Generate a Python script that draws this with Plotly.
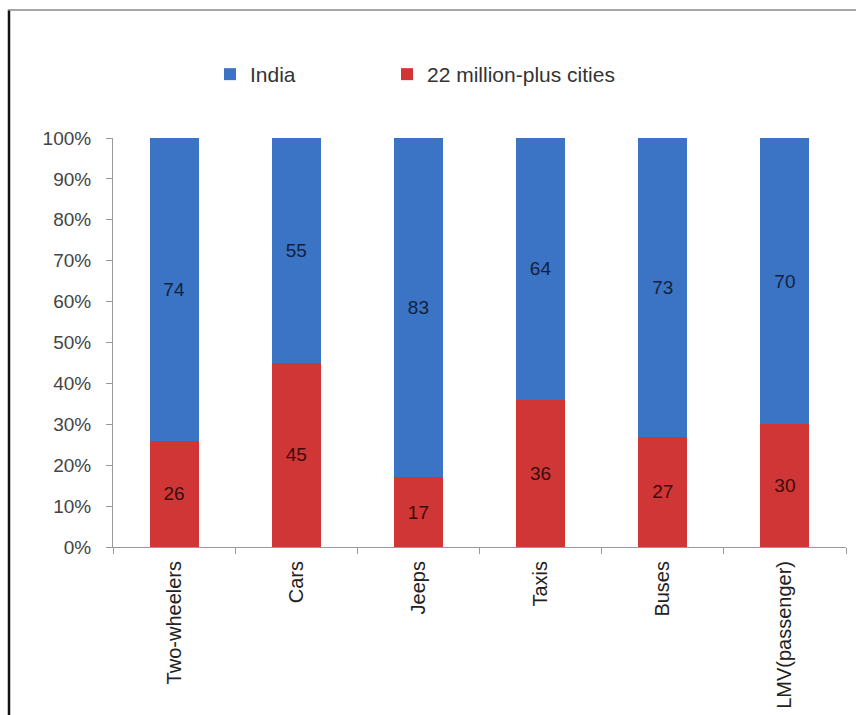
import plotly.graph_objects as go

categories = ["Two-wheelers", "Cars", "Jeeps", "Taxis", "Buses", "LMV(passenger)"]
india = [74, 55, 83, 64, 73, 70]
cities = [26, 45, 17, 36, 27, 30]
y_ticks = [0, 10, 20, 30, 40, 50, 60, 70, 80, 90, 100]

FONT = "Liberation Sans"

fig = go.Figure()
fig.add_trace(go.Bar(
    x=categories, y=cities, name="22 million-plus cities",
    marker=dict(color="#d03636", line=dict(width=0)),
    text=[str(v) for v in cities], textposition="inside",
    insidetextanchor="middle", textangle=0,
    textfont=dict(family=FONT, size=19, color="#3a0c0c"),
    width=0.4, legend="legend2",
))
fig.add_trace(go.Bar(
    x=categories, y=india, name="India",
    marker=dict(color="#3b74c4", line=dict(width=0)),
    text=[str(v) for v in india], textposition="inside",
    insidetextanchor="middle", textangle=0,
    textfont=dict(family=FONT, size=19, color="#14213d"),
    width=0.4, legend="legend",
))

L, R, T, B = 113, 10, 138, 168
W, H = 856, 715
pw, ph = W - L - R, H - T - B

def px_x(p):
    return (p - L) / pw

def px_y(p):
    return (H - B - p) / ph

legend_style = dict(
    orientation="h", xanchor="left", yanchor="top",
    font=dict(family=FONT, size=21, color="#333"),
    bgcolor="rgba(0,0,0,0)",
)

fig.update_layout(
    width=W, height=H,
    margin=dict(l=L, r=R, t=T, b=B, pad=0, autoexpand=False),
    barmode="stack",
    plot_bgcolor="white", paper_bgcolor="white",
    font=dict(family=FONT, size=19, color="#333"),
    showlegend=True,
    legend=dict(x=px_x(210), y=px_y(54), **legend_style),
    legend2=dict(x=px_x(387), y=px_y(54), **legend_style),
    xaxis=dict(
        tickangle=-90, showgrid=False, showline=True, linecolor="#999",
        linewidth=1, ticks="outside", ticklen=6, tickcolor="#999",
        tickson="boundaries", ticklabelstandoff=5,
        tickfont=dict(family=FONT, size=20, color="#222"),
    ),
    yaxis=dict(
        range=[0, 100], tickvals=y_ticks,
        ticktext=[f"{v}%" for v in y_ticks],
        showgrid=False, showline=True, linecolor="#999", linewidth=1,
        ticks="outside", ticklen=6, tickcolor="#999",
        ticklabelstandoff=11,
        tickfont=dict(family=FONT, size=19, color="#444"),
        zeroline=False,
    ),
    shapes=[
        dict(type="line", xref="paper", yref="paper",
             x0=px_x(9), x1=px_x(9), y0=px_y(10), y1=px_y(715),
             line=dict(color="#111", width=2.5)),
        dict(type="line", xref="paper", yref="paper",
             x0=px_x(8), x1=px_x(856), y0=px_y(10), y1=px_y(10),
             line=dict(color="#888", width=1.5)),
    ],
)

fig.write_html("out.html", config={"displayModeBar": False},
               post_script="document.body.style.margin='0';")
